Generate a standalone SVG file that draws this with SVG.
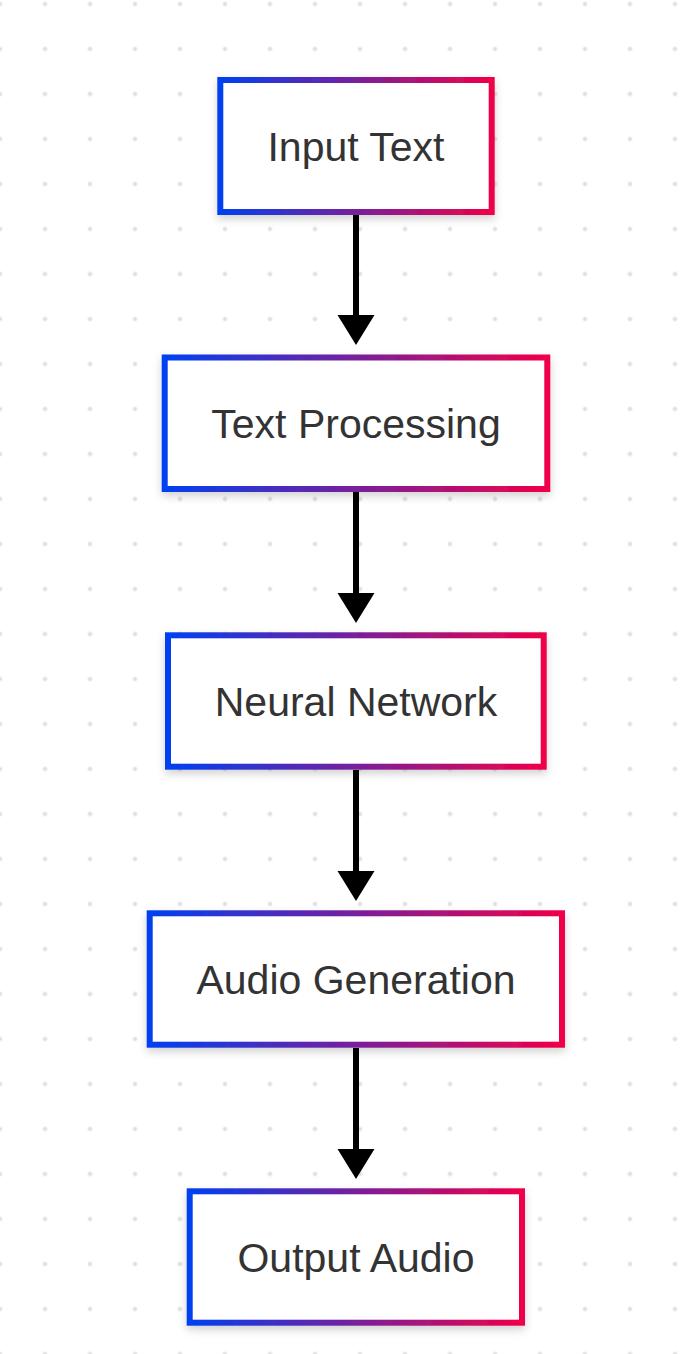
<svg xmlns="http://www.w3.org/2000/svg" width="693" height="1354" viewBox="0 0 693 1354">
  <defs>
    <pattern id="dots" patternUnits="userSpaceOnUse" x="-22.5" y="-18.5" width="45" height="45">
      <circle cx="22.5" cy="22.5" r="2.2" fill="#e0e0e0"/>
    </pattern>
    <linearGradient id="grad" x1="0" y1="0" x2="1" y2="0">
      <stop offset="0" stop-color="#0040f0"/>
      <stop offset="1" stop-color="#f00048"/>
    </linearGradient>
    <filter id="shadow" x="-20%" y="-30%" width="140%" height="160%">
      <feDropShadow dx="0" dy="4" stdDeviation="4" flood-color="#000" flood-opacity="0.18"/>
    </filter>
    <style>
      .box { fill: #ffffff; stroke: url(#grad); stroke-width: 6; filter: url(#shadow); }
      .label { font-family: "Liberation Sans", Arial, sans-serif; font-size: 41px; fill: #333333; text-anchor: middle; }
      .edge { stroke: #000; stroke-width: 6; fill: none; }
      .head { fill: #000; }
    </style>
  </defs>
  <rect x="0" y="0" width="693" height="1354" fill="#ffffff"/>
  <rect x="0" y="0" width="693" height="1354" fill="url(#dots)"/>

  <g id="connectors">
    <path class="edge" d="M356,215 V315"/>
    <polygon class="head" points="337.5,315 374.5,315 356,345"/>
    <path class="edge" d="M356,492 V593"/>
    <polygon class="head" points="337.5,593 374.5,593 356,623"/>
    <path class="edge" d="M356,770 V871"/>
    <polygon class="head" points="337.5,871 374.5,871 356,901"/>
    <path class="edge" d="M356,1048 V1149"/>
    <polygon class="head" points="337.5,1149 374.5,1149 356,1179"/>
  </g>

  <g id="node-input-text">
    <rect class="box" x="220.3" y="80" width="271.4" height="132"/>
    <text class="label" x="356" y="160.5">Input Text</text>
  </g>
  <g id="node-text-processing">
    <rect class="box" x="164.7" y="357.5" width="382.6" height="131.5"/>
    <text class="label" x="356" y="438">Text Processing</text>
  </g>
  <g id="node-neural-network">
    <rect class="box" x="168" y="635.3" width="375.7" height="131.4"/>
    <text class="label" x="356" y="716">Neural Network</text>
  </g>
  <g id="node-audio-generation">
    <rect class="box" x="149.7" y="913.3" width="412.3" height="131.4"/>
    <text class="label" x="356" y="994">Audio Generation</text>
  </g>
  <g id="node-output-audio">
    <rect class="box" x="189.7" y="1191.3" width="332.3" height="131.4"/>
    <text class="label" x="356" y="1272">Output Audio</text>
  </g>
</svg>
